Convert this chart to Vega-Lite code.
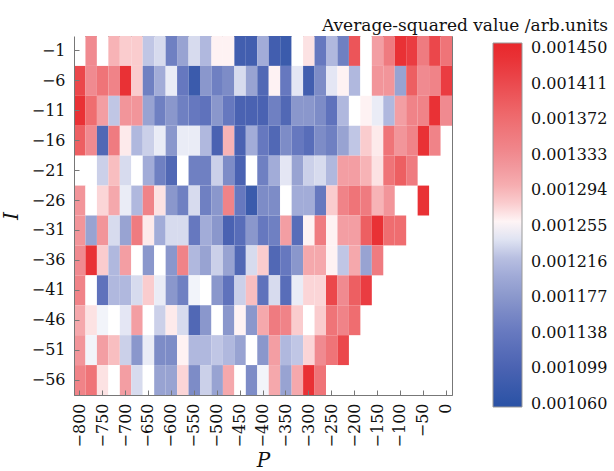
{
  "$schema": "https://vega.github.io/schema/vega-lite/v6.json",
  "width": 378,
  "height": 359,
  "autosize": "none",
  "padding": {"left": 74, "top": 36, "right": 162, "bottom": 76},
  "background": "white",
  "title": {"text": "Average-squared value /arb.units", "anchor": "end", "frame": "bounds", "font": "DejaVu Serif", "fontSize": 17, "fontWeight": "normal", "color": "#111", "baseline": "alphabetic", "offset": 10, "dy": 22},
  "data": {"values": [
{"P":-800,"I":-1,"v":0.001255},{"P":-775,"I":-1,"v":0.001333},{"P":-750,"I":-1,"v":0.001255},{"P":-725,"I":-1,"v":0.001294},{"P":-700,"I":-1,"v":0.00128},{"P":-675,"I":-1,"v":0.00128},{"P":-650,"I":-1,"v":0.001224},{"P":-625,"I":-1,"v":0.001236},{"P":-600,"I":-1,"v":0.001148},{"P":-575,"I":-1,"v":0.001191},{"P":-550,"I":-1,"v":0.001236},{"P":-525,"I":-1,"v":0.001216},{"P":-500,"I":-1,"v":0.001261},{"P":-475,"I":-1,"v":0.001261},{"P":-450,"I":-1,"v":0.001089},{"P":-425,"I":-1,"v":0.001089},{"P":-400,"I":-1,"v":0.001202},{"P":-375,"I":-1,"v":0.001089},{"P":-350,"I":-1,"v":0.00108},{"P":-325,"I":-1,"v":0.001255},{"P":-300,"I":-1,"v":0.001269},{"P":-275,"I":-1,"v":0.001138},{"P":-250,"I":-1,"v":0.001216},{"P":-225,"I":-1,"v":0.001148},{"P":-200,"I":-1,"v":0.001399},{"P":-175,"I":-1,"v":0.001255},{"P":-150,"I":-1,"v":0.001314},{"P":-125,"I":-1,"v":0.001353},{"P":-100,"I":-1,"v":0.00144},{"P":-75,"I":-1,"v":0.001427},{"P":-50,"I":-1,"v":0.001353},{"P":-25,"I":-1,"v":0.001415},{"P":0,"I":-1,"v":0.001362},
{"P":-800,"I":-6,"v":0.001415},{"P":-775,"I":-6,"v":0.001333},{"P":-750,"I":-6,"v":0.001362},{"P":-725,"I":-6,"v":0.001343},{"P":-700,"I":-6,"v":0.00144},{"P":-675,"I":-6,"v":0.00128},{"P":-650,"I":-6,"v":0.001148},{"P":-625,"I":-6,"v":0.001202},{"P":-600,"I":-6,"v":0.001245},{"P":-575,"I":-6,"v":0.001138},{"P":-550,"I":-6,"v":0.00108},{"P":-525,"I":-6,"v":0.001177},{"P":-500,"I":-6,"v":0.001148},{"P":-475,"I":-6,"v":0.001163},{"P":-450,"I":-6,"v":0.001236},{"P":-425,"I":-6,"v":0.001191},{"P":-400,"I":-6,"v":0.001109},{"P":-375,"I":-6,"v":0.001261},{"P":-350,"I":-6,"v":0.001138},{"P":-325,"I":-6,"v":0.001242},{"P":-300,"I":-6,"v":0.001089},{"P":-275,"I":-6,"v":0.001163},{"P":-250,"I":-6,"v":0.001242},{"P":-225,"I":-6,"v":0.001261},{"P":-200,"I":-6,"v":0.001216},{"P":-175,"I":-6,"v":0.001255},{"P":-150,"I":-6,"v":0.001323},{"P":-125,"I":-6,"v":0.001323},{"P":-100,"I":-6,"v":0.001191},{"P":-75,"I":-6,"v":0.001388},{"P":-50,"I":-6,"v":0.001333},{"P":-25,"I":-6,"v":0.001343},{"P":0,"I":-6,"v":0.001427},
{"P":-800,"I":-11,"v":0.00144},{"P":-775,"I":-11,"v":0.001372},{"P":-750,"I":-11,"v":0.001314},{"P":-725,"I":-11,"v":0.001224},{"P":-700,"I":-11,"v":0.001323},{"P":-675,"I":-11,"v":0.001323},{"P":-650,"I":-11,"v":0.001191},{"P":-625,"I":-11,"v":0.001148},{"P":-600,"I":-11,"v":0.001177},{"P":-575,"I":-11,"v":0.001148},{"P":-550,"I":-11,"v":0.001138},{"P":-525,"I":-11,"v":0.001128},{"P":-500,"I":-11,"v":0.001177},{"P":-475,"I":-11,"v":0.001138},{"P":-450,"I":-11,"v":0.001099},{"P":-425,"I":-11,"v":0.001099},{"P":-400,"I":-11,"v":0.001099},{"P":-375,"I":-11,"v":0.001148},{"P":-350,"I":-11,"v":0.001109},{"P":-325,"I":-11,"v":0.001177},{"P":-300,"I":-11,"v":0.001177},{"P":-275,"I":-11,"v":0.001163},{"P":-250,"I":-11,"v":0.001128},{"P":-225,"I":-11,"v":0.001216},{"P":-200,"I":-11,"v":0.001255},{"P":-175,"I":-11,"v":0.001261},{"P":-150,"I":-11,"v":0.001245},{"P":-125,"I":-11,"v":0.001216},{"P":-100,"I":-11,"v":0.001314},{"P":-75,"I":-11,"v":0.001343},{"P":-50,"I":-11,"v":0.001343},{"P":-25,"I":-11,"v":0.00144},{"P":0,"I":-11,"v":0.001333},
{"P":-800,"I":-16,"v":0.001388},{"P":-775,"I":-16,"v":0.001333},{"P":-750,"I":-16,"v":0.001109},{"P":-725,"I":-16,"v":0.001353},{"P":-700,"I":-16,"v":0.001265},{"P":-675,"I":-16,"v":0.001216},{"P":-650,"I":-16,"v":0.00123},{"P":-625,"I":-16,"v":0.001245},{"P":-600,"I":-16,"v":0.001177},{"P":-575,"I":-16,"v":0.001245},{"P":-550,"I":-16,"v":0.001245},{"P":-525,"I":-16,"v":0.001216},{"P":-500,"I":-16,"v":0.001099},{"P":-475,"I":-16,"v":0.001294},{"P":-450,"I":-16,"v":0.001099},{"P":-425,"I":-16,"v":0.001202},{"P":-400,"I":-16,"v":0.001138},{"P":-375,"I":-16,"v":0.001109},{"P":-350,"I":-16,"v":0.001163},{"P":-325,"I":-16,"v":0.001138},{"P":-300,"I":-16,"v":0.001119},{"P":-275,"I":-16,"v":0.001163},{"P":-250,"I":-16,"v":0.001148},{"P":-225,"I":-16,"v":0.001191},{"P":-200,"I":-16,"v":0.001224},{"P":-175,"I":-16,"v":0.00128},{"P":-150,"I":-16,"v":0.001265},{"P":-125,"I":-16,"v":0.001362},{"P":-100,"I":-16,"v":0.001323},{"P":-75,"I":-16,"v":0.001343},{"P":-50,"I":-16,"v":0.00144},{"P":-25,"I":-16,"v":0.001343},
{"P":-800,"I":-21,"v":0.001255},{"P":-775,"I":-21,"v":0.001255},{"P":-750,"I":-21,"v":0.00123},{"P":-725,"I":-21,"v":0.001288},{"P":-700,"I":-21,"v":0.001236},{"P":-675,"I":-21,"v":0.001255},{"P":-650,"I":-21,"v":0.001202},{"P":-625,"I":-21,"v":0.001148},{"P":-600,"I":-21,"v":0.001109},{"P":-575,"I":-21,"v":0.001255},{"P":-550,"I":-21,"v":0.001148},{"P":-525,"I":-21,"v":0.001148},{"P":-500,"I":-21,"v":0.00123},{"P":-475,"I":-21,"v":0.001163},{"P":-450,"I":-21,"v":0.001099},{"P":-425,"I":-21,"v":0.001255},{"P":-400,"I":-21,"v":0.001148},{"P":-375,"I":-21,"v":0.001202},{"P":-350,"I":-21,"v":0.001242},{"P":-325,"I":-21,"v":0.001191},{"P":-300,"I":-21,"v":0.00123},{"P":-275,"I":-21,"v":0.001236},{"P":-250,"I":-21,"v":0.001216},{"P":-225,"I":-21,"v":0.001314},{"P":-200,"I":-21,"v":0.001314},{"P":-175,"I":-21,"v":0.001294},{"P":-150,"I":-21,"v":0.001269},{"P":-125,"I":-21,"v":0.001362},{"P":-100,"I":-21,"v":0.001388},{"P":-75,"I":-21,"v":0.001353},
{"P":-800,"I":-26,"v":0.001323},{"P":-775,"I":-26,"v":0.001255},{"P":-750,"I":-26,"v":0.001275},{"P":-725,"I":-26,"v":0.001304},{"P":-700,"I":-26,"v":0.001245},{"P":-675,"I":-26,"v":0.001216},{"P":-650,"I":-26,"v":0.001343},{"P":-625,"I":-26,"v":0.001269},{"P":-600,"I":-26,"v":0.001177},{"P":-575,"I":-26,"v":0.001148},{"P":-550,"I":-26,"v":0.001236},{"P":-525,"I":-26,"v":0.001148},{"P":-500,"I":-26,"v":0.001177},{"P":-475,"I":-26,"v":0.001343},{"P":-450,"I":-26,"v":0.001138},{"P":-425,"I":-26,"v":0.00108},{"P":-400,"I":-26,"v":0.001163},{"P":-375,"I":-26,"v":0.001163},{"P":-350,"I":-26,"v":0.001255},{"P":-325,"I":-26,"v":0.001202},{"P":-300,"I":-26,"v":0.001202},{"P":-275,"I":-26,"v":0.001138},{"P":-250,"I":-26,"v":0.00128},{"P":-225,"I":-26,"v":0.001343},{"P":-200,"I":-26,"v":0.001362},{"P":-175,"I":-26,"v":0.001353},{"P":-150,"I":-26,"v":0.001294},{"P":-125,"I":-26,"v":0.001323},{"P":-50,"I":-26,"v":0.00144},
{"P":-800,"I":-31,"v":0.001323},{"P":-775,"I":-31,"v":0.001191},{"P":-750,"I":-31,"v":0.001323},{"P":-725,"I":-31,"v":0.001236},{"P":-700,"I":-31,"v":0.001191},{"P":-675,"I":-31,"v":0.001353},{"P":-650,"I":-31,"v":0.001265},{"P":-625,"I":-31,"v":0.001202},{"P":-600,"I":-31,"v":0.001236},{"P":-575,"I":-31,"v":0.001236},{"P":-550,"I":-31,"v":0.001138},{"P":-525,"I":-31,"v":0.001202},{"P":-500,"I":-31,"v":0.001177},{"P":-475,"I":-31,"v":0.001099},{"P":-450,"I":-31,"v":0.001119},{"P":-425,"I":-31,"v":0.001177},{"P":-400,"I":-31,"v":0.001138},{"P":-375,"I":-31,"v":0.001148},{"P":-350,"I":-31,"v":0.001314},{"P":-325,"I":-31,"v":0.001119},{"P":-300,"I":-31,"v":0.001261},{"P":-275,"I":-31,"v":0.001353},{"P":-250,"I":-31,"v":0.001261},{"P":-225,"I":-31,"v":0.001314},{"P":-200,"I":-31,"v":0.001314},{"P":-175,"I":-31,"v":0.001388},{"P":-150,"I":-31,"v":0.00144},{"P":-125,"I":-31,"v":0.001372},{"P":-100,"I":-31,"v":0.001372},
{"P":-800,"I":-36,"v":0.001333},{"P":-775,"I":-36,"v":0.00144},{"P":-750,"I":-36,"v":0.00128},{"P":-725,"I":-36,"v":0.001216},{"P":-700,"I":-36,"v":0.001314},{"P":-675,"I":-36,"v":0.001255},{"P":-650,"I":-36,"v":0.001177},{"P":-625,"I":-36,"v":0.001255},{"P":-600,"I":-36,"v":0.001177},{"P":-575,"I":-36,"v":0.001343},{"P":-550,"I":-36,"v":0.001216},{"P":-525,"I":-36,"v":0.001191},{"P":-500,"I":-36,"v":0.00123},{"P":-475,"I":-36,"v":0.001191},{"P":-450,"I":-36,"v":0.001109},{"P":-425,"I":-36,"v":0.001236},{"P":-400,"I":-36,"v":0.00128},{"P":-375,"I":-36,"v":0.001109},{"P":-350,"I":-36,"v":0.001138},{"P":-325,"I":-36,"v":0.001177},{"P":-300,"I":-36,"v":0.001304},{"P":-275,"I":-36,"v":0.001304},{"P":-250,"I":-36,"v":0.001261},{"P":-225,"I":-36,"v":0.001224},{"P":-200,"I":-36,"v":0.001304},{"P":-175,"I":-36,"v":0.001191},{"P":-150,"I":-36,"v":0.001353},
{"P":-800,"I":-41,"v":0.001343},{"P":-775,"I":-41,"v":0.001255},{"P":-750,"I":-41,"v":0.001128},{"P":-725,"I":-41,"v":0.001216},{"P":-700,"I":-41,"v":0.001216},{"P":-675,"I":-41,"v":0.001236},{"P":-650,"I":-41,"v":0.00128},{"P":-625,"I":-41,"v":0.001245},{"P":-600,"I":-41,"v":0.001177},{"P":-575,"I":-41,"v":0.001148},{"P":-550,"I":-41,"v":0.001249},{"P":-525,"I":-41,"v":0.001255},{"P":-500,"I":-41,"v":0.001177},{"P":-475,"I":-41,"v":0.001128},{"P":-450,"I":-41,"v":0.00123},{"P":-425,"I":-41,"v":0.001288},{"P":-400,"I":-41,"v":0.001128},{"P":-375,"I":-41,"v":0.001236},{"P":-350,"I":-41,"v":0.001119},{"P":-325,"I":-41,"v":0.001245},{"P":-300,"I":-41,"v":0.001275},{"P":-275,"I":-41,"v":0.001275},{"P":-250,"I":-41,"v":0.001415},{"P":-225,"I":-41,"v":0.001333},{"P":-200,"I":-41,"v":0.001388},{"P":-175,"I":-41,"v":0.001427},
{"P":-800,"I":-46,"v":0.001304},{"P":-775,"I":-46,"v":0.001269},{"P":-750,"I":-46,"v":0.001249},{"P":-725,"I":-46,"v":0.001255},{"P":-700,"I":-46,"v":0.001242},{"P":-675,"I":-46,"v":0.001314},{"P":-650,"I":-46,"v":0.001255},{"P":-625,"I":-46,"v":0.00123},{"P":-600,"I":-46,"v":0.001265},{"P":-575,"I":-46,"v":0.001236},{"P":-550,"I":-46,"v":0.001109},{"P":-525,"I":-46,"v":0.001177},{"P":-500,"I":-46,"v":0.001255},{"P":-475,"I":-46,"v":0.001177},{"P":-450,"I":-46,"v":0.001261},{"P":-425,"I":-46,"v":0.001177},{"P":-400,"I":-46,"v":0.001304},{"P":-375,"I":-46,"v":0.001353},{"P":-350,"I":-46,"v":0.001343},{"P":-325,"I":-46,"v":0.00128},{"P":-300,"I":-46,"v":0.001255},{"P":-275,"I":-46,"v":0.00128},{"P":-250,"I":-46,"v":0.001362},{"P":-225,"I":-46,"v":0.001343},{"P":-200,"I":-46,"v":0.001372},
{"P":-800,"I":-51,"v":0.001323},{"P":-775,"I":-51,"v":0.001249},{"P":-750,"I":-51,"v":0.001314},{"P":-725,"I":-51,"v":0.001288},{"P":-700,"I":-51,"v":0.00123},{"P":-675,"I":-51,"v":0.001177},{"P":-650,"I":-51,"v":0.001245},{"P":-625,"I":-51,"v":0.001163},{"P":-600,"I":-51,"v":0.001163},{"P":-575,"I":-51,"v":0.001261},{"P":-550,"I":-51,"v":0.001216},{"P":-525,"I":-51,"v":0.001216},{"P":-500,"I":-51,"v":0.001224},{"P":-475,"I":-51,"v":0.001216},{"P":-450,"I":-51,"v":0.001191},{"P":-425,"I":-51,"v":0.001255},{"P":-400,"I":-51,"v":0.001177},{"P":-375,"I":-51,"v":0.001314},{"P":-350,"I":-51,"v":0.001216},{"P":-325,"I":-51,"v":0.001224},{"P":-300,"I":-51,"v":0.001275},{"P":-275,"I":-51,"v":0.001333},{"P":-250,"I":-51,"v":0.001362},{"P":-225,"I":-51,"v":0.001415},
{"P":-800,"I":-56,"v":0.001343},{"P":-775,"I":-56,"v":0.001362},{"P":-750,"I":-56,"v":0.001269},{"P":-725,"I":-56,"v":0.001255},{"P":-700,"I":-56,"v":0.001314},{"P":-675,"I":-56,"v":0.001236},{"P":-650,"I":-56,"v":0.001255},{"P":-625,"I":-56,"v":0.001191},{"P":-600,"I":-56,"v":0.001191},{"P":-575,"I":-56,"v":0.001275},{"P":-550,"I":-56,"v":0.001163},{"P":-525,"I":-56,"v":0.00123},{"P":-500,"I":-56,"v":0.001191},{"P":-475,"I":-56,"v":0.001304},{"P":-450,"I":-56,"v":0.001255},{"P":-425,"I":-56,"v":0.001163},{"P":-400,"I":-56,"v":0.001249},{"P":-375,"I":-56,"v":0.001304},{"P":-350,"I":-56,"v":0.001191},{"P":-325,"I":-56,"v":0.001304},{"P":-300,"I":-56,"v":0.00144},{"P":-275,"I":-56,"v":0.001362}
  ]},
  "mark": {"type": "rect"},
  "encoding": {
    "x": {
      "field": "P", "type": "ordinal", "sort": "ascending",
      "scale": {"paddingInner": 0, "paddingOuter": 0},
      "axis": {
        "title": "P",
        "values": [-800,-750,-700,-650,-600,-550,-500,-450,-400,-350,-300,-250,-200,-150,-100,-50,0],
        "labelAngle": 270,
        "labelPadding": 13,
        "titlePadding": 4,
        "labelExpr": "replace(datum.label, '-', '−')"
      }
    },
    "y": {
      "field": "I", "type": "ordinal", "sort": "descending",
      "scale": {"paddingInner": 0, "paddingOuter": 0},
      "axis": {
        "title": "I",
        "labelPadding": 14,
        "titlePadding": 10,
        "labelExpr": "replace(datum.label, '-', '−')"
      }
    },
    "color": {
      "field": "v", "type": "quantitative",
      "scale": {
        "type": "linear",
        "domain": [0.0010567, 0.00106, 0.001099, 0.001138, 0.001177, 0.001216, 0.0012355, 0.001255, 0.0012745, 0.001294, 0.001333, 0.001372, 0.001411, 0.00145, 0.0014555],
        "range": ["#2c53a6", "#2c53a6", "#4a62b2", "#6678bf", "#8a97cc", "#b0b8de", "#d6daee", "#ffffff", "#fbd6d8", "#f7b3b6", "#f08a90", "#ef6d70", "#eb4a4f", "#e8282c", "#e8282c"],
        "interpolate": "rgb", "clamp": true
      },
      "legend": {
        "title": null,
        "orient": "none",
        "legendX": 419,
        "legendY": 7,
        "direction": "vertical",
        "gradientLength": 364,
        "gradientThickness": 29,
        "values": [0.00106,0.001099,0.001138,0.001177,0.001216,0.001255,0.001294,0.001333,0.001372,0.001411,0.00145],
        "format": ".6f",
        "labelOffset": 9,
        "padding": 0
      }
    }
  },
  "config": {
    "view": {"stroke": "#777", "strokeWidth": 1},
    "axis": {
      "domainColor": "#777", "tickColor": "#777", "tickSize": -5, "grid": false,
      "labelFont": "DejaVu Serif", "labelFontSize": 16, "labelColor": "#111",
      "titleFont": "DejaVu Serif", "titleFontStyle": "italic", "titleFontWeight": "normal", "titleFontSize": 20, "titleColor": "#111"
    },
    "legend": {
      "labelFont": "DejaVu Serif", "labelFontSize": 16, "labelColor": "#111", "labelOverlap": false,
      "gradientStrokeColor": "#999", "gradientStrokeWidth": 1
    }
  }
}
